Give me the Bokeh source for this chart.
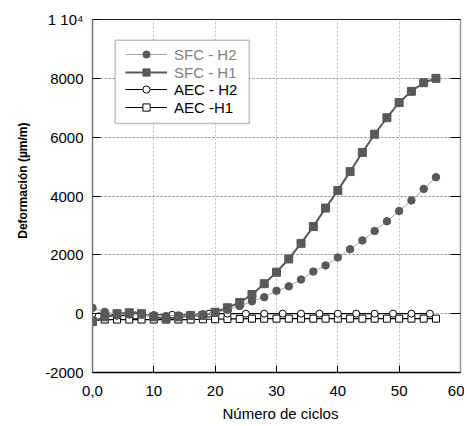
from bokeh.plotting import figure
from bokeh.models import (Legend, LegendItem, FixedTicker, LinearAxis, BoxAnnotation,
                          Title, CustomJSTickFormatter)
from bokeh.embed import file_html
from bokeh.resources import INLINE

# ---------------- data ----------------
ciclos_sfc = [0, 2, 4, 6, 8, 10, 12, 14, 16, 18, 20, 22, 24, 26, 28, 30, 32, 34, 36,
              38, 40, 42, 44, 46, 48, 50, 52, 54, 56]
sfc_h2 = [200, 60, -20, -30, -40, -60, -80, -60, -50, -20, 30, 130, 260, 420, 560, 780,
          930, 1160, 1430, 1640, 1910, 2190, 2490, 2810, 3140, 3490, 3850, 4240, 4640]
sfc_h1 = [-270, -110, 0, 30, 0, -110, -170, -110, -60, -60, 50, 200, 380, 650, 1020,
          1410, 1860, 2390, 2960, 3590, 4190, 4830, 5480, 6100, 6660, 7180, 7560, 7850, 8000]

ciclos_aec_h2 = [1, 4, 7, 10, 13, 16, 19, 22, 25, 28, 31, 34, 37, 40, 43, 46, 49, 52, 55]
aec_h2 = [-90, -70, -60, -50, -40, -40, 0, 0, 0, 0, 0, 0, 0, 0, 0, 0, 0, 0, 0]

ciclos_aec_h1 = ciclos_sfc
aec_h1 = [-230, -200, -200, -200, -200, -200, -200, -200, -200, -190, -190, -180, -180,
          -170, -170, -170, -170, -170, -170, -170, -170, -170, -170, -170, -170, -170,
          -170, -170, -170]

x_ticks = [0, 10, 20, 30, 40, 50, 60]
y_ticks = [-2000, 0, 2000, 4000, 6000, 8000, 10000]
x_tick_labels = {0: "0,0"}
y_tick_labels = {-2000: "-2000", 10000: "1 10\u2074"}

labels = ["SFC - H2", "SFC - H1", "AEC - H2", "AEC -H1"]
x_title = "Número de ciclos"
y_title = "Deformación (µm/m)"

FONT = "Liberation Sans"
DARK = "#595959"

p = figure(width=464, height=425, x_range=(0, 60), y_range=(-2000, 10000),
           output_backend="svg", toolbar_location=None,
           min_border_left=92, min_border_right=4, min_border_top=19, min_border_bottom=52)
p.outline_line_color = None
p.background_fill_color = "white"
p.border_fill_color = "white"

# axes
p.xaxis.ticker = FixedTicker(ticks=x_ticks)
p.yaxis.ticker = FixedTicker(ticks=y_ticks)
p.xaxis.major_label_overrides = x_tick_labels
p.yaxis.major_label_overrides = y_tick_labels
for ax in (p.xaxis[0], p.yaxis[0]):
    ax.major_label_text_font = FONT
    ax.major_label_text_font_size = "15px"
    ax.major_label_text_color = "black"
    ax.major_tick_out = 0
    ax.minor_tick_line_color = None
    ax.major_tick_line_color = "black"
    ax.major_label_standoff = 9
p.xaxis.major_label_standoff = 13
p.xaxis.major_tick_in = 7
p.yaxis.major_tick_in = 8
p.xaxis.axis_line_color = "black"
p.xaxis.axis_line_width = 1.5
p.yaxis.axis_line_color = "#777777"
p.yaxis.axis_line_width = 1.5

right = LinearAxis(ticker=FixedTicker(ticks=y_ticks),
                   formatter=CustomJSTickFormatter(code="return ''"))
right.major_tick_in = 10
right.major_tick_out = 0
right.minor_tick_line_color = None
right.major_label_standoff = 0
right.axis_line_color = "#999999"
right.axis_line_width = 1.5
p.add_layout(right, "right")

top = LinearAxis(ticker=FixedTicker(ticks=[]),
                 formatter=CustomJSTickFormatter(code="return ''"))
top.major_tick_in = 0
top.major_tick_out = 0
top.minor_tick_line_color = None
top.major_label_standoff = 0
top.axis_line_color = "#222222"
top.axis_line_width = 1
p.add_layout(top, "above")

# grid
p.xgrid.ticker = FixedTicker(ticks=x_ticks)
p.ygrid.ticker = FixedTicker(ticks=y_ticks)
p.xgrid.grid_line_color = "#c0c0c0"
p.xgrid.grid_line_dash = "2 2"
p.ygrid.grid_line_color = "#808080"
p.ygrid.grid_line_dash = "2 2"

# series
l_a1 = p.line(ciclos_aec_h1, aec_h1, line_color="black", line_width=1.2)
s_a1 = p.scatter(ciclos_aec_h1, aec_h1, marker="square", size=7, fill_color="white",
                 line_color="black", line_width=1)
l_a2 = p.line(ciclos_aec_h2, aec_h2, line_color="black", line_width=1.2)
s_a2 = p.scatter(ciclos_aec_h2, aec_h2, marker="circle", size=7, fill_color="white",
                 line_color="black", line_width=1)
l_h1 = p.line(ciclos_sfc, sfc_h1, line_color=DARK, line_width=2)
s_h1 = p.scatter(ciclos_sfc, sfc_h1, marker="square", size=8, fill_color=DARK,
                 line_color=DARK)
l_h2 = p.line(ciclos_sfc, sfc_h2, line_color="#a6a6a6", line_width=1)
s_h2 = p.scatter(ciclos_sfc, sfc_h2, marker="circle", size=7.5, fill_color=DARK,
                 line_color=DARK)

# legend box
box = BoxAnnotation(left=3.69, right=25.57, top=9298, bottom=6461,
                    fill_color="white", fill_alpha=1, line_color="#333333", line_width=1.5)
p.add_layout(box)


def make_legend(items, loc, color):
    lg = Legend(items=items, location=loc)
    lg.border_line_color = None
    lg.background_fill_alpha = 0
    lg.padding = 0
    lg.margin = 0
    lg.spacing = 0
    lg.glyph_width = 42
    lg.glyph_height = 18
    lg.label_height = 18
    lg.label_standoff = 7
    lg.label_text_font = FONT
    lg.label_text_font_size = "15px"
    lg.label_text_color = color
    return lg


leg1 = make_legend([LegendItem(label=labels[0], renderers=[l_h2, s_h2]),
                    LegendItem(label=labels[1], renderers=[l_h1, s_h1])], (33, 291), "#808080")
leg2 = make_legend([LegendItem(label=labels[2], renderers=[l_a2, s_a2]),
                    LegendItem(label=labels[3], renderers=[l_a1, s_a1])], (33, 256), "black")
p.add_layout(leg1)
p.add_layout(leg2)

# axis titles
yt = Title(text=y_title, align="right", offset=103, standoff=26,
           text_font=FONT, text_font_size="12px", text_font_style="bold", text_color="black")
p.add_layout(yt, "left")
xt = Title(text=x_title, align="left", offset=130, standoff=8,
           text_font=FONT, text_font_size="15px", text_font_style="normal", text_color="black")
p.add_layout(xt, "below")

open("out.html", "w").write(file_html(p, INLINE))
